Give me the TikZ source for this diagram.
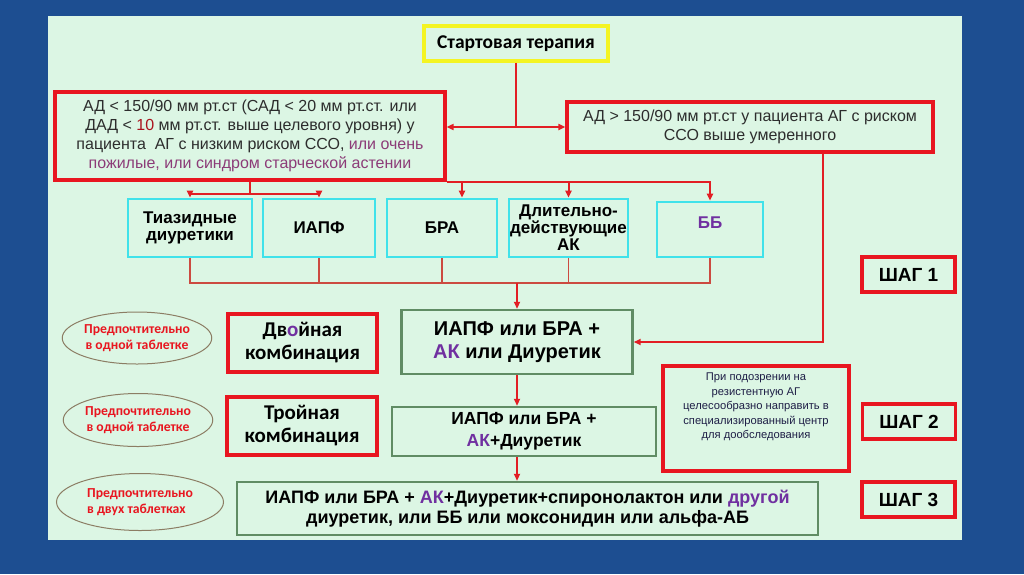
\documentclass[tikz,border=0pt]{standalone}
\usepackage{fontspec}
\setmainfont{Liberation Sans}
\newfontfamily\calib{Carlito}
\usetikzlibrary{arrows.meta,shapes.geometric}

\definecolor{bgblue}{RGB}{29,78,145}
\definecolor{panel}{RGB}{220,246,228}
\definecolor{boxred}{RGB}{232,22,32}
\definecolor{linkred}{RGB}{226,30,36}
\definecolor{rowred}{RGB}{204,74,64}
\definecolor{drugcyan}{RGB}{64,226,234}
\definecolor{regimengreen}{RGB}{96,140,100}
\definecolor{startyellow}{RGB}{244,244,34}
\definecolor{akpurple}{RGB}{112,48,160}
\definecolor{mauve}{RGB}{140,60,120}
\definecolor{darkred}{RGB}{170,20,30}
\definecolor{ovalline}{RGB}{140,125,100}
\definecolor{textgray}{RGB}{45,45,45}
\definecolor{navytext}{RGB}{30,30,70}

\tikzset{
  redbox/.style={draw=boxred,line width=3.2pt,inner sep=0pt,align=center},
  drugbox/.style={draw=drugcyan,line width=2.6pt,inner sep=0pt,align=center,
    font=\fontsize{17}{17}\selectfont\bfseries},
  regimen/.style={draw=regimengreen,line width=2.4pt,inner sep=0pt,align=center},
  shagbox/.style={redbox,minimum width=93pt,minimum height=35pt,
    font=\fontsize{19}{20}\selectfont\bfseries},
  prefoval/.style={ellipse,draw=ovalline,line width=1pt,inner sep=0pt,text=boxred,
    font=\calib\bfseries\fontsize{13.7}{16}\selectfont,align=center},
  plain/.style={draw=linkred,line width=2pt},
  link/.style={plain,-{Triangle[length=7pt,width=6pt]}},
  rowlink/.style={draw=rowred,line width=1.6pt}
}

\begin{document}
\begin{tikzpicture}[x=1pt,y=-1pt]
\useasboundingbox (0,0) rectangle (1024,574);
\fill[bgblue] (0,0) rectangle (1024,574);
\fill[panel] (48,16) rectangle (962,540);

\node[draw=startyellow,line width=3.2pt,minimum width=184pt,minimum height=35pt,inner sep=0pt,
  font=\calib\bfseries\fontsize{19.5}{20}\selectfont] (start) at (516,43.5) {Стартовая терапия};

\node[redbox,minimum width=390pt,minimum height=88pt,text=textgray,
  font=\fontsize{16}{19}\selectfont] (lowrisk) at (250,136)
  {АД < 150/90 мм рт.ст (САД < 20 мм рт.ст. или\\ДАД < {\color{darkred}10} мм рт.ст. выше целевого уровня) у\\пациента\ \ АГ с низким риском ССО, {\color{mauve}или очень}\\{\color{mauve}пожилые, или синдром старческой астении}};
\node[redbox,minimum width=366pt,minimum height=50pt,text=textgray,
  font=\fontsize{16}{19}\selectfont] (highrisk) at (750,127)
  {АД > 150/90 мм рт.ст у пациента АГ с риском\\ССО выше умеренного};

\node[drugbox,minimum width=124pt,minimum height=58pt] (thiazide) at (190,228) {Тиазидные\\диуретики};
\node[drugbox,minimum width=112pt,minimum height=58pt] (acei) at (319,228) {ИАПФ};
\node[drugbox,minimum width=110pt,minimum height=58pt] (arb) at (442,228) {БРА};
\node[drugbox,minimum width=119pt,minimum height=58pt] (ccb) at (568.5,228) {Длительно-\\действующие\\АК};
\node[drugbox,minimum width=106pt,minimum height=55pt,text=akpurple] (bb) at (710,229.5) {\raisebox{13pt}{ББ}};

\node[regimen,minimum width=231pt,minimum height=64pt,font=\bfseries\fontsize{20}{23}\selectfont] (duo) at (517,342)
  {ИАПФ или БРА +\\{\color{akpurple}АК} или Диуретик};
\node[regimen,minimum width=264pt,minimum height=49pt,font=\bfseries\fontsize{17.5}{22}\selectfont] (trio) at (524,431.5)
  {ИАПФ или БРА +\\{\color{akpurple}АК}+Диуретик};
\node[regimen,minimum width=581pt,minimum height=53pt,font=\bfseries\fontsize{18}{20}\selectfont] (quad) at (527.5,508.5)
  {ИАПФ или БРА + {\color{akpurple}АК}+Диуретик+спиронолактон или {\color{akpurple}другой}\\диуретик, или ББ или моксонидин или альфа-АБ};

\node[redbox,minimum width=186pt,minimum height=105pt,text=navytext,font=\fontsize{11.2}{14.5}\selectfont] (resist) at (756,418.5)
  {\parbox[c][95pt][t]{182pt}{\centering\vspace*{2pt}При подозрении на\\резистентную АГ\\целесообразно направить в\\специализированный центр\\для дообследования}};

\node[redbox,minimum width=149pt,minimum height=58pt,font=\calib\bfseries\fontsize{21}{23}\selectfont] (duallabel) at (302.5,343)
  {Дв{\color{akpurple}о}йная\\комбинация};
\node[redbox,minimum width=150pt,minimum height=58pt,font=\calib\bfseries\fontsize{21}{23}\selectfont] (triplelabel) at (302,426)
  {Тройная\\комбинация};

\node[prefoval,minimum width=147pt,minimum height=52pt] (pref1) at (137,338) {Предпочтительно\\в одной таблетке};
\node[prefoval,minimum width=147pt,minimum height=53pt] (pref2) at (138,420) {Предпочтительно\\в одной таблетке};
\node[prefoval,minimum width=167pt,minimum height=57pt,align=left] (pref3) at (140,502) {Предпочтительно\\в двух таблетках};

\node[shagbox] (shag1) at (908.5,274.5) {ШАГ 1};
\node[shagbox] (shag2) at (909,421.5) {ШАГ 2};
\node[shagbox] (shag3) at (908.5,499.5) {ШАГ 3};

\draw[plain] (start.south) -- (start.south |- highrisk.west) coordinate (split);
\draw[link] (split) -- (split -| lowrisk.east);
\draw[link] (split) -- (highrisk.west);

\coordinate (lowfork) at (250,194);
\draw[plain] (lowrisk.south) -- (lowfork);
\draw[link] (lowfork) -| (thiazide.north);
\draw[link] (lowfork) -| (acei.north);
\draw[link] (lowrisk.south east) -| (bb.north);
\draw[link] ([xshift=20pt]arb.north |- lowrisk.south) -- ([xshift=20pt]arb.north);
\draw[link] (ccb.north |- lowrisk.south) -- (ccb.north);

\coordinate (rowjoin) at (517,283);
\foreach \d in {thiazide,acei,arb,ccb,bb}
  \draw[rowlink] (\d.south) |- (rowjoin);
\draw[link] (rowjoin) -- (duo.north);

\draw[link] ([xshift=73pt]highrisk.south) |- (duo.east);
\draw[link] (duo.south) -- (duo.south |- trio.north);
\draw[link] (duo.south |- trio.south) -- (duo.south |- quad.north);
\end{tikzpicture}
\end{document}
